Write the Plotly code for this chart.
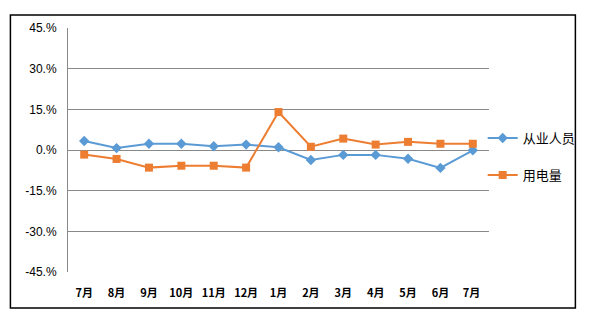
import plotly.graph_objects as go

months = ["7月", "8月", "9月", "10月", "11月", "12月", "1月", "2月", "3月", "4月", "5月", "6月", "7月 "]
employees = [3.3, 0.7, 2.3, 2.3, 1.4, 2.0, 1.0, -3.7, -1.8, -1.8, -3.2, -6.6, -0.1]
electricity = [-1.7, -3.3, -6.5, -5.8, -5.8, -6.5, 14.0, 1.2, 4.2, 2.0, 3.0, 2.3, 2.3]
ytick_vals = [-45, -30, -15, 0, 15, 30, 45]
ytick_text = ["-45.%", "-30.%", "-15.%", "0.%", "15.%", "30.%", "45.%"]

fig = go.Figure()
fig.add_trace(go.Scatter(
    x=months, y=employees, name="从业人员", mode="lines+markers",
    line=dict(color="#5B9BD5", width=2),
    marker=dict(symbol="diamond", size=8, color="#5B9BD5"),
    legend="legend",
))
fig.add_trace(go.Scatter(
    x=months, y=electricity, name="用电量", mode="lines+markers",
    line=dict(color="#ED7D31", width=2),
    marker=dict(symbol="square", size=8, color="#ED7D31"),
    legend="legend2",
))

fig.update_layout(
    width=593, height=324,
    margin=dict(l=68, r=101, t=28, b=52),
    paper_bgcolor="white", plot_bgcolor="white",
    font=dict(family="Noto Sans CJK SC, DejaVu Sans", size=11, color="black"),
    showlegend=True,
    legend=dict(x=0.985, y=(272 - 138) / 244, xanchor="left", yanchor="middle",
                font=dict(size=13), bgcolor="rgba(0,0,0,0)", itemwidth=30),
    legend2=dict(x=0.985, y=(272 - 175) / 244, xanchor="left", yanchor="middle",
                 font=dict(size=13), bgcolor="rgba(0,0,0,0)", itemwidth=30),
    shapes=[dict(type="rect", xref="paper", yref="paper",
                 x0=(10 - 68) / 424, x1=(579 - 68) / 424,
                 y0=(272 - 308) / 244, y1=(272 - 15) / 244,
                 line=dict(color="black", width=1.5), fillcolor="rgba(0,0,0,0)")],
)
fig.update_xaxes(
    range=[-0.5, 12.5],
    showgrid=False, showline=False, zeroline=False, ticks="",
    tickfont=dict(size=11, family="Noto Sans CJK SC", weight="bold"),
    ticklabelstandoff=13,
)
fig.update_yaxes(
    range=[-45, 45], tickvals=ytick_vals, ticktext=ytick_text,
    showgrid=True, gridcolor="#898989", gridwidth=1,
    zeroline=True, zerolinecolor="#898989", zerolinewidth=1,
    showline=True, linecolor="#898989", linewidth=1,
    ticks="", ticklabelstandoff=8,
    tickfont=dict(size=12, family="Liberation Sans"),
)

fig.write_html("out.html")
